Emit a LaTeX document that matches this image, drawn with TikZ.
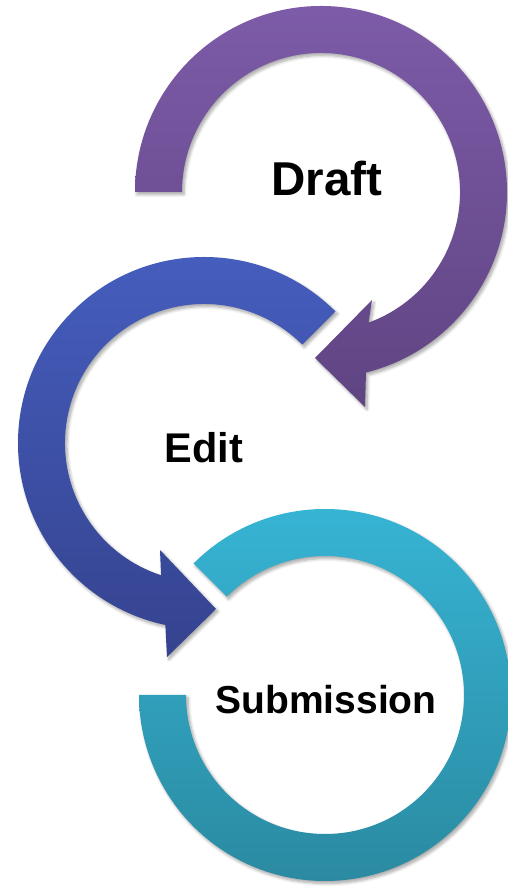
\documentclass[tikz,border=0pt]{standalone}
\usepackage{fontspec}
\setmainfont{Liberation Sans}
\usetikzlibrary{shadows.blur}
\definecolor{draftTop}{HTML}{7D5BA8}
\definecolor{draftBot}{HTML}{5F4482}
\definecolor{editTop}{HTML}{465EBF}
\definecolor{editBot}{HTML}{35438F}
\definecolor{subTop}{HTML}{37B6D6}
\definecolor{subBot}{HTML}{2A889F}
\tikzset{
  ringshadow/.style={blur shadow={shadow xshift=2pt, shadow yshift=-2.5pt, shadow blur steps=6, shadow blur radius=3pt, shadow opacity=35}},
  label/.style={font=\bfseries, text=black, inner sep=0pt}
}
\begin{document}
\begin{tikzpicture}[x=1pt,y=1pt]
\useasboundingbox (0,0) rectangle (508,886);
% Draft ring (centre 321,694)
\coordinate (dc) at (321,694);
\shade[top color=draftTop, bottom color=draftBot, ringshadow]
  ($(dc)+(180:186)$) arc[start angle=180, end angle=-76, radius=186]
  -- (365,479) -- (315,528) -- (372,586)
  -- ($(dc)+(-70:139)$) arc[start angle=-70, end angle=180, radius=139] -- cycle;
% Edit ring (centre 204,443)
\coordinate (ec) at (204,443);
\shade[top color=editTop, bottom color=editBot, ringshadow]
  ($(ec)+(45:186)$) arc[start angle=45, end angle=258, radius=186]
  -- (167,229) -- (216,277) -- (160,336)
  -- ($(ec)+(252:139)$) arc[start angle=252, end angle=45, radius=139] -- cycle;
% Submission ring (centre 325,191)
\coordinate (sc) at (325,191);
\shade[top color=subTop, bottom color=subBot, ringshadow]
  ($(sc)+(135:186)$) arc[start angle=135, end angle=-180, radius=186]
  -- ($(sc)+(180:139)$) arc[start angle=-180, end angle=135, radius=139] -- cycle;
% labels
\node[label, font=\fontsize{47.5}{52}\selectfont\bfseries] (draft) at (327,707) {Draft};
\node[label, font=\fontsize{41.5}{48}\selectfont\bfseries] (edit) at (204,438) {Edit};
\node[label, font=\fontsize{39}{46}\selectfont\bfseries] (sub) at (326,186) {Submission};
\end{tikzpicture}
\end{document}
